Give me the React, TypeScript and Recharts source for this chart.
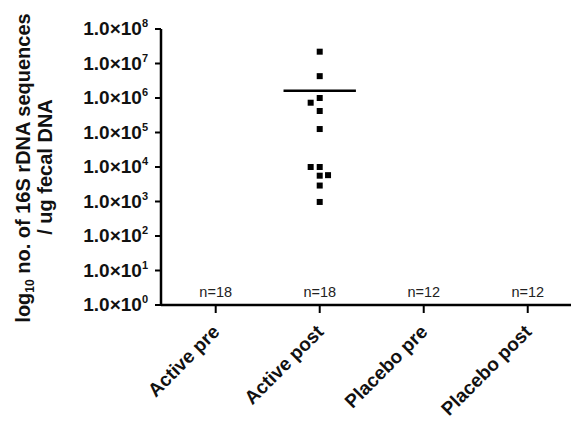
import React from 'react';
import { ScatterChart, Scatter, XAxis, YAxis, ReferenceLine } from 'recharts';

const categories = ['Active pre', 'Active post', 'Placebo pre', 'Placebo post'];
const nLabels = ['n=18', 'n=18', 'n=12', 'n=12'];
const yTicks = [1, 10, 100, 1e3, 1e4, 1e5, 1e6, 1e7, 1e8];

// Active post: category index 2, small horizontal jitter (category units)
const activePostValues = [2.2e7, 4.3e6, 1.0e6, 7.3e5, 4.2e5, 1.26e5, 1.0e4, 1.0e4, 5.6e3, 5.8e3, 2.9e3, 9.7e2];
const activePostJitter = [0, 0, 0, -0.087, 0, 0, -0.087, 0, 0, 0.08, 0, 0];
const activePostMean = 1.63e6;
const meanHalfWidth = 0.348;

const points = activePostValues.map((v, i) => ({ x: 2 + activePostJitter[i], y: v }));

const FONT = 'Liberation Sans, Arial, sans-serif';

const YTick = (props: any) => {
  const { x, y, payload } = props;
  const exp = Math.round(Math.log10(payload.value));
  return (
    <text x={x - 7} y={y + 6} textAnchor="end" fontWeight="bold" fontSize={19} fontFamily={FONT} fill="#111">
      1.0×10<tspan fontSize={11} dy={-8}>{exp}</tspan>
    </text>
  );
};

const XTick = (props: any) => {
  const { x, y, payload } = props;
  const i = Math.round(payload.value) - 1;
  const ax = x + 5;
  const ay = y + 20;
  return (
    <g>
      <text x={x} y={y - 16} textAnchor="middle" fontSize={14.5} fontFamily={FONT} fill="#222">{nLabels[i]}</text>
      <text
        x={ax}
        y={ay}
        transform={`rotate(-45, ${ax}, ${ay})`}
        textAnchor="end"
        fontWeight="bold"
        fontSize={19}
        fontFamily={FONT}
        fill="#111"
      >
        {categories[i]}
      </text>
    </g>
  );
};

const Square = (props: any) => {
  const { cx, cy } = props;
  return <rect x={cx - 3} y={cy - 3} width={6} height={6} fill="#000" />;
};

export default function App() {
  return (
    <div style={{ position: 'absolute', left: 0, top: 0, width: 571, height: 433, background: '#fff' }}>
      <ScatterChart width={571} height={433} margin={{ top: 29, right: 0, bottom: 0, left: 0 }}>
        <XAxis
          dataKey="x"
          type="number"
          domain={[0.474, 4.416]}
          ticks={[1, 2, 3, 4]}
          allowDataOverflow
          height={128}
          tickSize={8}
          tickMargin={0}
          axisLine={{ stroke: '#000', strokeWidth: 2.5 }}
          tickLine={{ stroke: '#000', strokeWidth: 2 }}
          tick={<XTick />}
          interval={0}
        />
        <YAxis
          dataKey="y"
          type="number"
          scale="log"
          domain={[1, 1e8]}
          ticks={yTicks}
          allowDataOverflow
          width={161}
          tickSize={6}
          tickMargin={0}
          axisLine={{ stroke: '#000', strokeWidth: 2.5 }}
          tickLine={{ stroke: '#000', strokeWidth: 2 }}
          tick={<YTick />}
          interval={0}
        />
        <Scatter data={points} shape={<Square />} isAnimationActive={false} />
        <ReferenceLine
          segment={[{ x: 2 - meanHalfWidth, y: activePostMean }, { x: 2 + meanHalfWidth, y: activePostMean }]}
          stroke="#000"
          strokeWidth={2.5}
        />
      </ScatterChart>
      <svg width={571} height={433} style={{ position: 'absolute', left: 0, top: 0, pointerEvents: 'none' }}>
        <text x={30} y={168} transform="rotate(-90, 30, 168)" textAnchor="middle" fontWeight="bold" fontSize={20} fontFamily={FONT} fill="#111">
          log<tspan fontSize={12} dy={4}>10</tspan><tspan dy={-4}> no. of 16S rDNA sequences</tspan>
        </text>
        <text x={52} y={167} transform="rotate(-90, 52, 167)" textAnchor="middle" fontWeight="bold" fontSize={20} fontFamily={FONT} fill="#111">
          / ug fecal DNA
        </text>
      </svg>
    </div>
  );
}
